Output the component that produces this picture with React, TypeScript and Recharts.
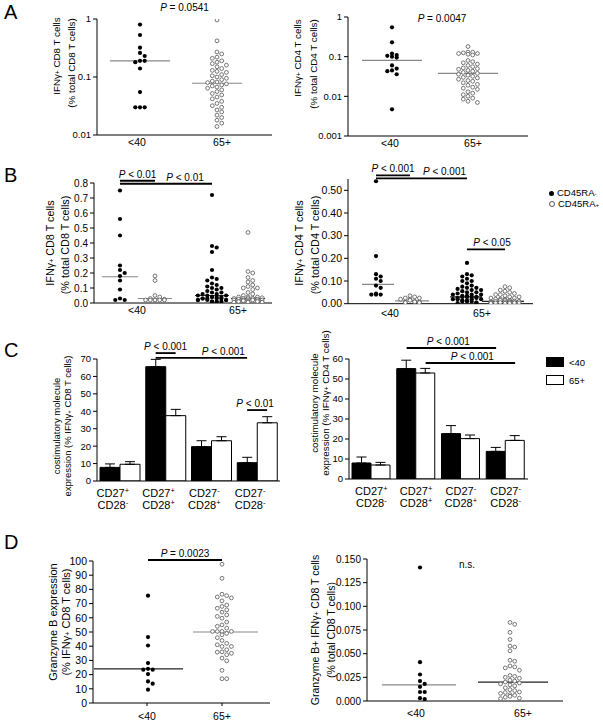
import React from 'react';
import {
  ScatterChart,
  Scatter,
  BarChart,
  Bar,
  ErrorBar,
  XAxis,
  YAxis,
  ReferenceLine,
} from 'recharts';

const FONT = '"Liberation Sans", Arial, Helvetica, sans-serif';

// ---------- data ----------
const ageGroups = ['<40', '65+'];

// A: IFNg+ cells, log scale
const aCd8Young = [0.8, 0.53, 0.32, 0.26, 0.23, 0.19, 0.19, 0.18, 0.14, 0.055, 0.03, 0.03, 0.03];
const aCd8Old = [
  0.96, 0.42, 0.27, 0.25, 0.22, 0.21, 0.19, 0.18, 0.17, 0.16, 0.15, 0.14, 0.13, 0.125, 0.12, 0.11,
  0.105, 0.1, 0.095, 0.09, 0.085, 0.082, 0.08, 0.076, 0.073, 0.07, 0.067, 0.064, 0.06, 0.056, 0.052,
  0.049, 0.045, 0.042, 0.038, 0.035, 0.032, 0.03, 0.027, 0.025, 0.022, 0.02, 0.018, 0.016, 0.014,
];
const aCd8Medians = [0.19, 0.078];
const aCd4Young = [0.55, 0.23, 0.12, 0.11, 0.105, 0.1, 0.095, 0.06, 0.05, 0.045, 0.043, 0.036, 0.0047];
const aCd4Old = [
  0.18, 0.13, 0.13, 0.125, 0.12, 0.12, 0.115, 0.11, 0.08, 0.075, 0.07, 0.065, 0.06, 0.056, 0.052, 0.05,
  0.048, 0.045, 0.043, 0.04, 0.038, 0.036, 0.035, 0.034, 0.032, 0.03, 0.029, 0.027, 0.025, 0.024, 0.022,
  0.02, 0.019, 0.017, 0.016, 0.015, 0.013, 0.012, 0.011, 0.01, 0.009, 0.0085, 0.0075, 0.007,
];
const aCd4Medians = [0.081, 0.038];

// B: by CD45RA status (neg = filled, pos = open)
const bCd8YoungNeg = [0.75, 0.56, 0.45, 0.25, 0.22, 0.2, 0.18, 0.15, 0.09, 0.03, 0.02, 0.02];
const bCd8YoungPos = [0.18, 0.15, 0.05, 0.04, 0.03, 0.025, 0.02, 0.02, 0.02, 0.02, 0.02, 0.02];
const bCd8OldNeg = [
  0.72, 0.38, 0.37, 0.34, 0.22, 0.17, 0.16, 0.15, 0.13, 0.12, 0.11, 0.1, 0.1, 0.09, 0.08, 0.07, 0.07,
  0.06, 0.06, 0.05, 0.05, 0.05, 0.04, 0.04, 0.04, 0.04, 0.03, 0.03, 0.03, 0.03, 0.03, 0.02, 0.02, 0.02,
  0.02, 0.02, 0.01, 0.01, 0.01, 0.01, 0.005, 0.005,
];
const bCd8OldPos = [
  0.47, 0.21, 0.2, 0.17, 0.15, 0.14, 0.12, 0.11, 0.1, 0.1, 0.09, 0.07, 0.06, 0.05, 0.04, 0.04, 0.04,
  0.035, 0.03, 0.03, 0.03, 0.03, 0.03, 0.025, 0.025, 0.02, 0.02, 0.02, 0.02, 0.02, 0.015, 0.015, 0.01,
  0.01, 0.01, 0.01, 0.005, 0.005, 0.005, 0.005,
];
const bCd8Medians = [0.175, 0.03, 0.05, 0.03];
const bCd4YoungNeg = [0.54, 0.21, 0.13, 0.12, 0.11, 0.1, 0.08, 0.07, 0.045, 0.04, 0.04, 0.04];
const bCd4YoungPos = [0.035, 0.03, 0.025, 0.025, 0.02, 0.02, 0.015, 0.01, 0.008, 0.005, 0.005, 0.005, 0.005];
const bCd4OldNeg = [
  0.18, 0.13, 0.125, 0.12, 0.11, 0.1, 0.1, 0.09, 0.08, 0.075, 0.07, 0.07, 0.065, 0.06, 0.06, 0.055, 0.05,
  0.05, 0.045, 0.04, 0.04, 0.04, 0.035, 0.035, 0.03, 0.03, 0.03, 0.03, 0.025, 0.025, 0.02, 0.02, 0.02,
  0.02, 0.015, 0.015, 0.01, 0.01, 0.01, 0.005, 0.005, 0.003,
];
const bCd4OldPos = [
  0.075, 0.07, 0.06, 0.055, 0.05, 0.045, 0.04, 0.04, 0.035, 0.03, 0.03, 0.025, 0.025, 0.02, 0.02, 0.02,
  0.015, 0.015, 0.015, 0.012, 0.01, 0.01, 0.01, 0.01, 0.008, 0.008, 0.006, 0.005, 0.005, 0.005, 0.004,
  0.003, 0.003, 0.002, 0.002, 0.002,
];
const bCd4Medians = [0.085, 0.012, 0.03, 0.01];

// C: costimulatory molecule expression
const costimCats = ['c1', 'c2', 'c3', 'c4'];
const cd27Sign = ['+', '+', '-', '-'];
const cd28Sign = ['-', '+', '+', '-'];
const cCd8Young = [7.8, 65.6, 19.7, 10.5];
const cCd8YoungErr = [2, 4.2, 3.4, 3.1];
const cCd8Old = [9.6, 37.5, 23.1, 33.4];
const cCd8OldErr = [1.5, 3.6, 2.3, 3.5];
const cCd4Young = [8, 55.2, 22.7, 13.8];
const cCd4YoungErr = [3, 4.2, 4, 2];
const cCd4Old = [7, 53, 20.2, 19.3];
const cCd4OldErr = [1.3, 2.3, 1.8, 2.4];

// D: granzyme B
const dGzbYoung = [75.6, 46.4, 40.5, 28.1, 24.1, 23.5, 23.5, 20.4, 15.2, 13.6, 9.4];
const dGzbOld = [
  97.7, 87.8, 76.6, 75.6, 74.7, 74, 71.9, 69, 68, 66.7, 65.6, 64, 62, 61, 59.7, 57, 55, 54, 52.7, 50.4,
  50.4, 50.4, 50.4, 49, 48, 46, 44, 42, 41, 39.8, 39.8, 37.5, 36, 35.8, 35, 34, 31.6, 29.7, 23, 17.1, 17.1,
];
const dGzbMedians = [24, 50];
const dGzbCellsYoung = [0.141, 0.041, 0.028, 0.021, 0.018, 0.015, 0.0095, 0.0095, 0.003, 0.002];
const dGzbCellsOld = [
  0.083, 0.081, 0.0725, 0.065, 0.058, 0.057, 0.053, 0.043, 0.042, 0.037, 0.036, 0.035, 0.0325, 0.027,
  0.026, 0.025, 0.024, 0.022, 0.021, 0.02, 0.019, 0.018, 0.017, 0.016, 0.014, 0.012, 0.011, 0.0095,
  0.009, 0.008, 0.0067, 0.006, 0.005, 0.004, 0.003, 0.0025,
];
const dGzbCellsMedians = [0.017, 0.02];

// ---------- helpers ----------
type Frame = { x0: number; x1: number; yTop: number; yBot: number };
type DotGroup = {
  at: number;
  values: number[];
  filled: boolean;
  median: number;
  mAt?: number;
  half: number;
  spread: number;
  mColor?: string;
};
type Note = { from: number; to: number; y: number; text: string; bar: boolean; dx?: number };

const YW = 40;
const MT = 28;
const MR = 8;

function swarm(values: number[], toPx: (v: number) => number, r: number, maxHalf: number) {
  const step = r * 2 + 0.5;
  const order = values.map((_, i) => i).sort((a, b) => values[b] - values[a]);
  const placed: { x: number; y: number }[] = [];
  const out = new Array(values.length).fill(0);
  const n = Math.floor(maxHalf / step);
  for (const i of order) {
    const y = toPx(values[i]);
    let best = 0;
    let bestHits = Infinity;
    for (let k = 0; k <= 2 * n; k++) {
      const off = k === 0 ? 0 : (k % 2 ? 1 : -1) * Math.ceil(k / 2) * step;
      let hits = 0;
      for (const p of placed) if (Math.hypot(p.x - off, p.y - y) < step - 0.3) hits++;
      if (hits < bestHits) {
        best = off;
        bestHits = hits;
      }
      if (hits === 0) break;
    }
    placed.push({ x: best, y });
    out[i] = best;
  }
  return out;
}

const FilledDot = (p: any) => <circle cx={p.cx} cy={p.cy} r={2.1} fill="#000" />;
const OpenDot = (p: any) => (
  <circle cx={p.cx} cy={p.cy} r={1.9} fill="#fff" stroke="#555" strokeWidth={0.8} />
);

const noteText = (text: string, x: number, y: number) => (
  <text x={x} y={y} textAnchor="middle" fontSize={10} fontFamily={FONT} fill="#000">
    {text.startsWith('P') ? (
      <>
        <tspan fontStyle="italic">P</tspan>
        {text.slice(1)}
      </>
    ) : (
      text
    )}
  </text>
);

const noteShape = (n: Note, shiftA = 0, shiftB = 0) => (p: any) => {
  const xa = p.x1 + shiftA;
  const xb = p.x2 + shiftB;
  const y = p.y1;
  return (
    <g>
      {n.bar && <line x1={xa} x2={xb} y1={y} y2={y} stroke="#000" strokeWidth={1.8} />}
      {noteText(n.text, (xa + xb) / 2 + (n.dx || 0), y - 3)}
    </g>
  );
};

type DotPanelProps = {
  frame: Frame;
  log?: boolean;
  domain: [number, number];
  ticks: number[];
  fmt: (v: number) => string;
  tickFont: number;
  catGap: number;
  catTicks?: boolean;
  cats: { label: string; at: number }[];
  groups: DotGroup[];
  notes: Note[];
};

function DotPanel({ frame, log, domain, ticks, fmt, tickFont, catGap, catTicks, cats, groups, notes }: DotPanelProps) {
  const XH = 24;
  const left = frame.x0 - YW;
  const top = frame.yTop - MT;
  const width = frame.x1 - left + MR;
  const height = frame.yBot - top + XH;
  const span = frame.yBot - frame.yTop;
  const toPx = (v: number) =>
    log
      ? -((Math.log10(v) - Math.log10(domain[0])) / (Math.log10(domain[1]) - Math.log10(domain[0]))) * span
      : -((v - domain[0]) / (domain[1] - domain[0])) * span;
  const series = groups.map((g) => {
    const offs = swarm(g.values, toPx, 2.1, g.spread);
    return g.values.map((v, i) => ({ x: g.at + offs[i], y: v }));
  });
  const CatTick = (p: any) => {
    const c = cats.find((k) => k.at === p.payload.value);
    return (
      <text x={p.x} y={p.y} dy="0.71em" textAnchor="middle" fontSize={10.5} fontFamily={FONT} fill="#000">
        {c ? c.label : ''}
      </text>
    );
  };
  return (
    <div style={{ position: 'absolute', left, top }}>
      <ScatterChart width={width} height={height} margin={{ top: MT, right: MR, bottom: 0, left: 0 }}>
        <XAxis
          type="number"
          dataKey="x"
          domain={[0, frame.x1 - frame.x0]}
          ticks={cats.map((c) => c.at)}
          interval={0}
          tick={CatTick}
          tickLine={catTicks ? { stroke: '#000' } : false}
          tickSize={catTicks ? 3 : 0}
          tickMargin={catTicks ? catGap - 3 : catGap}
          axisLine={{ stroke: '#000' }}
          height={XH}
          allowDataOverflow
        />
        <YAxis
          type="number"
          dataKey="y"
          scale={log ? 'log' : 'linear'}
          domain={domain}
          ticks={ticks}
          interval={0}
          tickFormatter={fmt}
          width={YW}
          tickSize={4}
          tickLine={{ stroke: '#000' }}
          axisLine={{ stroke: '#000' }}
          tick={{ fill: '#000', fontSize: tickFont, fontFamily: FONT }}
          allowDataOverflow
        />
        {groups.map((g, gi) => (
          <Scatter
            key={gi}
            data={series[gi]}
            shape={g.filled ? FilledDot : OpenDot}
            isAnimationActive={false}
          />
        ))}
        {groups.map((g, gi) => (
          <ReferenceLine
            key={'m' + gi}
            segment={[
              { x: (g.mAt ?? g.at) - g.half, y: g.median },
              { x: (g.mAt ?? g.at) + g.half, y: g.median },
            ]}
            stroke={g.mColor || '#888'}
            strokeWidth={1.2}
            ifOverflow="visible"
          />
        ))}
        {notes.map((n, ni) => (
          <ReferenceLine
            key={'n' + ni}
            segment={[
              { x: groups[n.from].at, y: n.y },
              { x: groups[n.to].at, y: n.y },
            ]}
            ifOverflow="visible"
            shape={noteShape(n)}
          />
        ))}
      </ScatterChart>
    </div>
  );
}

type BarNote = { from: number; fromSide: number; to: number; toSide: number; y: number; text: string; dx?: number };

type BarPanelProps = {
  frame: Frame;
  domain: [number, number];
  ticks: number[];
  young: number[];
  youngErr: number[];
  old: number[];
  oldErr: number[];
  barSize: number;
  labelDx: number;
  notes: BarNote[];
};

function BarPanel({ frame, domain, ticks, young, youngErr, old, oldErr, barSize, labelDx, notes }: BarPanelProps) {
  const XH = 40;
  const left = frame.x0 - YW;
  const top = frame.yTop - MT;
  const width = frame.x1 - left + MR;
  const height = frame.yBot - top + XH;
  const data = costimCats.map((c, i) => ({
    cat: c,
    young: young[i],
    old: old[i],
    yErr: [0, youngErr[i]],
    oErr: [0, oldErr[i]],
  }));
  const CostimTick = (p: any) => {
    const i = costimCats.indexOf(p.payload.value);
    const x = p.x + labelDx;
    return (
      <g fontSize={11} fontFamily={FONT} fill="#000">
        <text x={x} y={p.y + 16} textAnchor="middle">
          CD27<tspan dy={-4} fontSize={7.5}>{cd27Sign[i]}</tspan>
        </text>
        <text x={x} y={p.y + 28} textAnchor="middle">
          CD28<tspan dy={-4} fontSize={7.5}>{cd28Sign[i]}</tspan>
        </text>
      </g>
    );
  };
  const half = barSize / 2;
  return (
    <div style={{ position: 'absolute', left, top }}>
      <BarChart
        width={width}
        height={height}
        data={data}
        barGap={0}
        barSize={barSize}
        margin={{ top: MT, right: MR, bottom: 0, left: 0 }}
      >
        <XAxis
          dataKey="cat"
          interval={0}
          tick={CostimTick}
          tickLine={false}
          tickSize={0}
          tickMargin={0}
          axisLine={{ stroke: '#000' }}
          height={XH}
        />
        <YAxis
          type="number"
          domain={domain}
          ticks={ticks}
          interval={0}
          width={YW}
          tickSize={4}
          tickLine={{ stroke: '#000' }}
          axisLine={{ stroke: '#000' }}
          tick={{ fill: '#000', fontSize: 9.5, fontFamily: FONT }}
          allowDataOverflow
        />
        <Bar dataKey="young" fill="#000" stroke="#000" strokeWidth={1} isAnimationActive={false}>
          <ErrorBar dataKey="yErr" width={5} stroke="#000" strokeWidth={1} direction="y" />
        </Bar>
        <Bar dataKey="old" fill="#fff" stroke="#000" strokeWidth={1} isAnimationActive={false}>
          <ErrorBar dataKey="oErr" width={5} stroke="#000" strokeWidth={1} direction="y" />
        </Bar>
        {notes.map((n, ni) => (
          <ReferenceLine
            key={ni}
            segment={[
              { x: costimCats[n.from], y: n.y },
              { x: costimCats[n.to], y: n.y },
            ]}
            ifOverflow="visible"
            shape={noteShape({ ...n, bar: true } as any, n.fromSide * half, n.toSide * half)}
          />
        ))}
      </BarChart>
    </div>
  );
}

const YLabel = ({ x, y, size, children }: { x: number; y: number; size: number; children: React.ReactNode }) => (
  <div
    style={{
      position: 'absolute',
      left: x,
      top: y,
      transform: 'translate(-50%, -50%) rotate(-90deg)',
      whiteSpace: 'nowrap',
      fontSize: size,
      lineHeight: 1,
    }}
  >
    {children}
  </div>
);

const Letter = ({ x, y, t }: { x: number; y: number; t: string }) => (
  <div style={{ position: 'absolute', left: x, top: y, fontSize: 20, lineHeight: 1 }}>{t}</div>
);

const sup = (s: string) => <sup style={{ fontSize: '65%', verticalAlign: '45%', lineHeight: 0 }}>{s}</sup>;

const lin = (a: number, b: number, s: number) => {
  const out: number[] = [];
  for (let v = a; v <= b + 1e-9; v += s) out.push(Math.round(v * 1000) / 1000);
  return out;
};

export default function App() {
  return (
    <div
      style={{
        position: 'absolute',
        left: 0,
        top: 0,
        width: 603,
        height: 723,
        background: '#fff',
        fontFamily: FONT,
        color: '#000',
        overflow: 'hidden',
      }}
    >
      {/* A */}
      <DotPanel
        frame={{ x0: 97, x1: 272, yTop: 19, yBot: 135 }}
        log
        domain={[0.01, 1]}
        ticks={[0.01, 0.1, 1]}
        fmt={(v) => String(v)}
        tickFont={9.5}
        catGap={4}
        cats={[
          { label: ageGroups[0], at: 40 },
          { label: ageGroups[1], at: 125 },
        ]}
        groups={[
          { at: 43, values: aCd8Young, filled: true, median: aCd8Medians[0], half: 30, spread: 8 },
          { at: 120, values: aCd8Old, filled: false, median: aCd8Medians[1], half: 25, spread: 11 },
        ]}
        notes={[{ from: 0, to: 1, y: 1.22, text: 'P = 0.0541', bar: false, dx: 6 }]}
      />
      <DotPanel
        frame={{ x0: 348, x1: 528, yTop: 17, yBot: 136 }}
        log
        domain={[0.001, 1]}
        ticks={[0.001, 0.01, 0.1, 1]}
        fmt={(v) => String(v)}
        tickFont={9.5}
        catGap={4}
        cats={[
          { label: ageGroups[0], at: 42 },
          { label: ageGroups[1], at: 125 },
        ]}
        groups={[
          { at: 44, values: aCd4Young, filled: true, median: aCd4Medians[0], half: 30, spread: 8 },
          { at: 120, values: aCd4Old, filled: false, median: aCd4Medians[1], half: 30, spread: 11 },
        ]}
        notes={[{ from: 0, to: 1, y: 0.63, text: 'P = 0.0047', bar: false, dx: 12 }]}
      />

      {/* B */}
      <DotPanel
        frame={{ x0: 94, x1: 272, yTop: 183, yBot: 303 }}
        domain={[0, 0.8]}
        ticks={lin(0, 0.8, 0.1)}
        fmt={(v) => v.toFixed(1)}
        tickFont={10}
        catGap={4}
        cats={[
          { label: ageGroups[0], at: 43 },
          { label: ageGroups[1], at: 144 },
        ]}
        groups={[
          { at: 26, values: bCd8YoungNeg, filled: true, median: bCd8Medians[0], half: 18, spread: 7 },
          { at: 61, values: bCd8YoungPos, filled: false, median: bCd8Medians[1], half: 17, spread: 12 },
          { at: 118, values: bCd8OldNeg, filled: true, median: bCd8Medians[2], half: 17, spread: 15, mColor: '#333' },
          { at: 154, values: bCd8OldPos, filled: false, median: bCd8Medians[3], half: 17, spread: 15, mColor: '#333' },
        ]}
        notes={[
          { from: 0, to: 1, y: 0.815, text: 'P < 0.01', bar: true },
          { from: 0, to: 2, y: 0.795, text: 'P < 0.01', bar: true, dx: 19 },
        ]}
      />
      <DotPanel
        frame={{ x0: 348, x1: 533, yTop: 178.6, yBot: 303.3 }}
        domain={[0, 0.55]}
        ticks={lin(0, 0.5, 0.1)}
        fmt={(v) => v.toFixed(2)}
        tickFont={10.5}
        catGap={6}
        cats={[
          { label: ageGroups[0], at: 42 },
          { label: ageGroups[1], at: 134 },
        ]}
        groups={[
          { at: 28, values: bCd4YoungNeg, filled: true, median: bCd4Medians[0], mAt: 30, half: 16, spread: 7 },
          { at: 62, values: bCd4YoungPos, filled: false, median: bCd4Medians[1], mAt: 64, half: 17, spread: 13 },
          { at: 119, values: bCd4OldNeg, filled: true, median: bCd4Medians[2], mAt: 118, half: 16, spread: 15, mColor: '#222' },
          { at: 157, values: bCd4OldPos, filled: false, median: bCd4Medians[3], mAt: 155, half: 21, spread: 17, mColor: '#222' },
        ]}
        notes={[
          { from: 0, to: 1, y: 0.566, text: 'P < 0.001', bar: true },
          { from: 0, to: 2, y: 0.553, text: 'P < 0.001', bar: true, dx: 23 },
          { from: 2, to: 3, y: 0.24, text: 'P < 0.05', bar: true, dx: 6 },
        ]}
      />

      {/* C */}
      <BarPanel
        frame={{ x0: 97, x1: 280, yTop: 359, yBot: 481 }}
        domain={[0, 70]}
        ticks={lin(0, 70, 10)}
        young={cCd8Young}
        youngErr={cCd8YoungErr}
        old={cCd8Old}
        oldErr={cCd8OldErr}
        barSize={20}
        labelDx={-7}
        notes={[
          { from: 1, fromSide: -1, to: 1, toSide: 1, y: 73.4, text: 'P < 0.001' },
          { from: 1, fromSide: -1, to: 3, toSide: -1, y: 70.6, text: 'P < 0.001', dx: 22 },
          { from: 3, fromSide: -1, to: 3, toSide: 1, y: 40.7, text: 'P < 0.01', dx: -2 },
        ]}
      />
      <BarPanel
        frame={{ x0: 349, x1: 528, yTop: 359, yBot: 479 }}
        domain={[0, 60]}
        ticks={lin(0, 60, 10)}
        young={cCd4Young}
        youngErr={cCd4YoungErr}
        old={cCd4Old}
        oldErr={cCd4OldErr}
        barSize={19}
        labelDx={0}
        notes={[
          { from: 1, fromSide: -1, to: 3, toSide: -1, y: 65.5, text: 'P < 0.001', dx: -3 },
          { from: 1, fromSide: 1, to: 3, toSide: 1, y: 58, text: 'P < 0.001', dx: 2 },
        ]}
      />

      {/* D */}
      <DotPanel
        frame={{ x0: 93, x1: 270, yTop: 561, yBot: 703 }}
        domain={[0, 100]}
        ticks={lin(0, 100, 10)}
        fmt={(v) => String(v)}
        tickFont={10.5}
        catGap={10}
        catTicks
        cats={[
          { label: ageGroups[0], at: 54 },
          { label: ageGroups[1], at: 129 },
        ]}
        groups={[
          { at: 55, values: dGzbYoung, filled: true, median: dGzbMedians[0], mAt: 45.5, half: 44.5, spread: 10, mColor: '#222' },
          { at: 129, values: dGzbOld, filled: false, median: dGzbMedians[1], mAt: 132.5, half: 32.5, spread: 13 },
        ]}
        notes={[{ from: 0, to: 1, y: 100.7, text: 'P = 0.0023', bar: true }]}
      />
      <DotPanel
        frame={{ x0: 367, x1: 563, yTop: 559, yBot: 701 }}
        domain={[0, 0.15]}
        ticks={lin(0, 0.15, 0.025)}
        fmt={(v) => v.toFixed(3)}
        tickFont={10}
        catGap={9}
        cats={[
          { label: ageGroups[0], at: 49 },
          { label: ageGroups[1], at: 156 },
        ]}
        groups={[
          { at: 53, values: dGzbCellsYoung, filled: true, median: dGzbCellsMedians[0], mAt: 52, half: 37, spread: 8 },
          { at: 143, values: dGzbCellsOld, filled: false, median: dGzbCellsMedians[1], mAt: 146, half: 35, spread: 14, mColor: '#222' },
        ]}
        notes={[{ from: 0, to: 1, y: 0.137, text: 'n.s.', bar: false, dx: 2 }]}
      />

      {/* axis titles */}
      <YLabel x={57} y={56} size={9.8}>IFNγ{sup('+')} CD8 T cells</YLabel>
      <YLabel x={72} y={63} size={9.8}>(% total CD8 T cells)</YLabel>
      <YLabel x={298} y={58} size={9.8}>IFNγ{sup('+')} CD4 T cells</YLabel>
      <YLabel x={314} y={64} size={9.8}>(% total CD4 T cells)</YLabel>

      <YLabel x={50} y={243} size={10.8}>IFNγ{sup('+')} CD8 T cells</YLabel>
      <YLabel x={65} y={245} size={10.8}>(% total CD8 T cells)</YLabel>
      <YLabel x={299} y={243} size={10.8}>IFNγ{sup('+')} CD4 T cells</YLabel>
      <YLabel x={315} y={245} size={10.8}>(% total CD4 T cells)</YLabel>

      <YLabel x={57} y={426} size={9.5}>costimulatory molecule</YLabel>
      <YLabel x={68} y={426} size={9.5}>expression (% IFNγ{sup('+')} CD8 T cells)</YLabel>
      <YLabel x={315} y={403} size={9.8}>costimulatory molecule</YLabel>
      <YLabel x={326} y={403} size={9.8}>expression (% IFNγ{sup('+')} CD4 T cells)</YLabel>

      <YLabel x={53} y={622} size={11}>Granzyme B expression</YLabel>
      <YLabel x={66} y={622} size={11}>(% IFNγ{sup('+')} CD8 T cells)</YLabel>
      <YLabel x={315} y={630} size={10.5}>Granzyme B+ IFNγ{sup('+')} CD8 T cells</YLabel>
      <YLabel x={331} y={630} size={10.5}>(% total CD8 T cells)</YLabel>

      {/* legends */}
      <div style={{ position: 'absolute', left: 549, top: 187, fontSize: 9.5, lineHeight: '11px' }}>
        <div>
          <span style={{ display: 'inline-block', width: 5, height: 5, borderRadius: '50%', background: '#000', marginRight: 3 }} />
          CD45RA{sup('-')}
        </div>
        <div>
          <span
            style={{
              display: 'inline-block',
              width: 4,
              height: 4,
              borderRadius: '50%',
              border: '0.8px solid #555',
              marginRight: 3,
            }}
          />
          CD45RA{sup('+')}
        </div>
      </div>
      <div style={{ position: 'absolute', left: 546, top: 357, width: 18, height: 10, background: '#000', border: '1px solid #000', boxSizing: 'border-box' }} />
      <div style={{ position: 'absolute', left: 569, top: 357, fontSize: 9.5, lineHeight: '11px' }}>{ageGroups[0]}</div>
      <div style={{ position: 'absolute', left: 546, top: 375, width: 18, height: 10, background: '#fff', border: '1px solid #000', boxSizing: 'border-box' }} />
      <div style={{ position: 'absolute', left: 569, top: 375, fontSize: 9.5, lineHeight: '11px' }}>{ageGroups[1]}</div>

      <Letter x={4} y={2} t="A" />
      <Letter x={4} y={165} t="B" />
      <Letter x={4} y={340} t="C" />
      <Letter x={4} y={532} t="D" />
    </div>
  );
}
